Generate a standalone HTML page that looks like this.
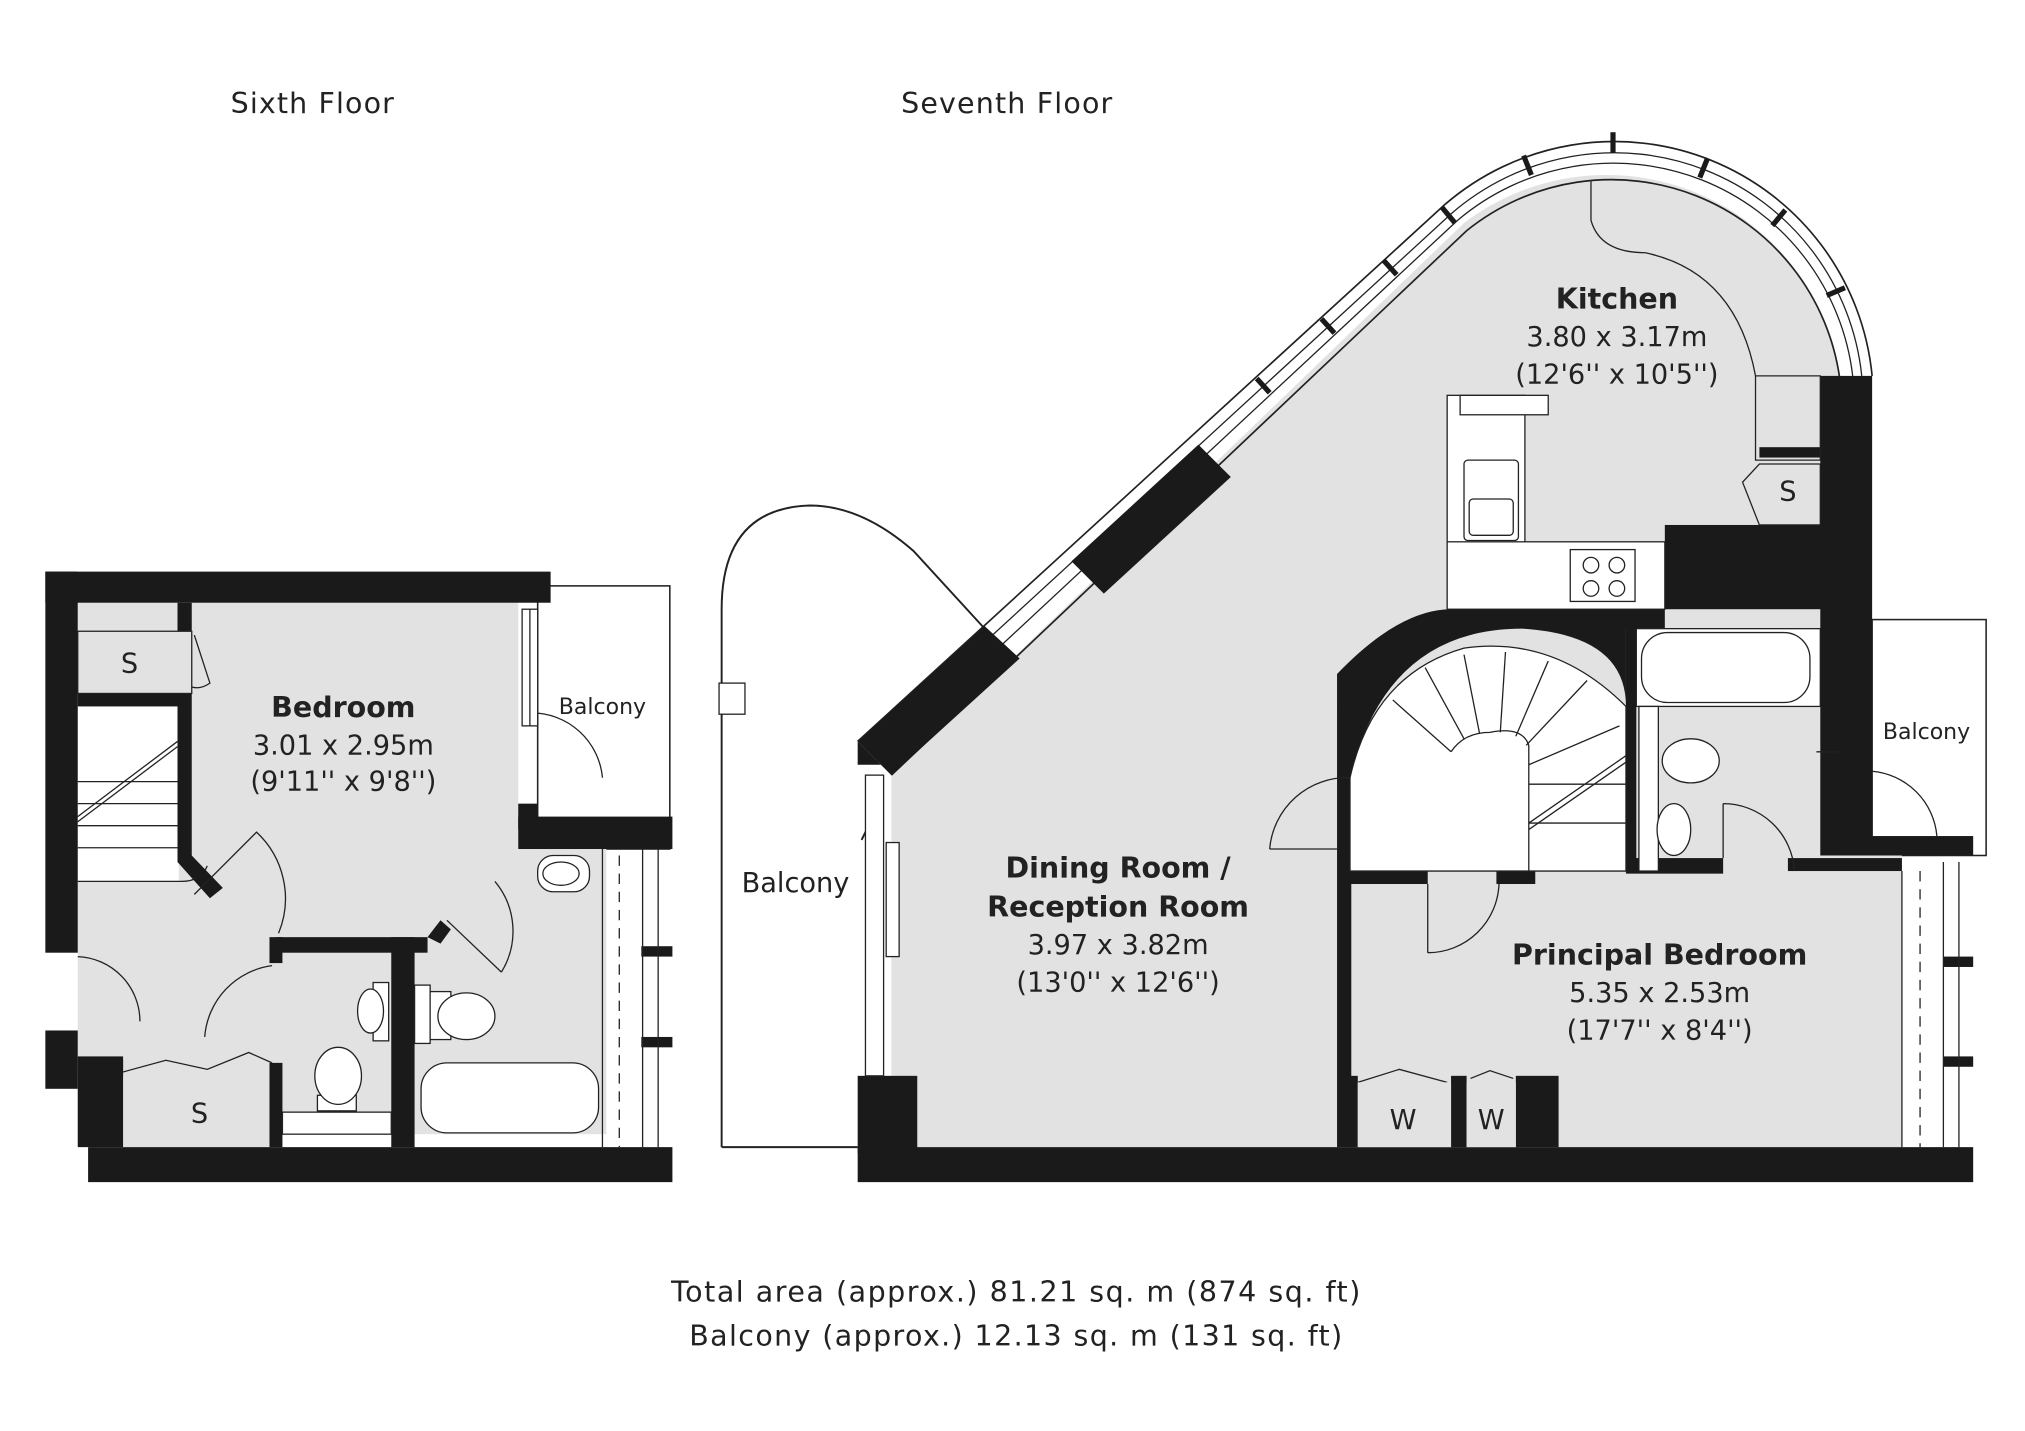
<!DOCTYPE html>
<html><head><meta charset="utf-8"><style>
html,body{margin:0;padding:0;background:#fff;}
svg{display:block;}
text{font-family:"DejaVu Sans","Liberation Sans",sans-serif;fill:#222;}
.b{font-weight:bold;}
</style></head><body>
<svg width="2025" height="1431" viewBox="0 0 1563 1104" preserveAspectRatio="none" xmlns="http://www.w3.org/2000/svg">
<rect width="1563" height="1104" fill="#fff"/>
<text x="241" y="87" font-size="22" text-anchor="middle" textLength="126">Sixth Floor</text>
<text x="777" y="87" font-size="22" text-anchor="middle" textLength="163">Seventh Floor</text>

<!-- SIXTH FLOOR -->
<g stroke="#222" stroke-width="1.2">
<rect x="415" y="452" width="102" height="203" fill="#fff"/>
</g>
<rect x="60" y="465" width="340" height="365" fill="#e2e2e2"/>
<rect x="320" y="655" width="148" height="220" fill="#e2e2e2"/>
<rect x="213" y="735" width="90" height="140" fill="#e2e2e2"/>
<rect x="95" y="825" width="116" height="60" fill="#e2e2e2"/>
<rect x="60" y="545" width="78" height="135" fill="#fff"/>
<g stroke="#222" stroke-width="1" fill="none">
<line x1="60" y1="603" x2="137" y2="603"/><line x1="60" y1="620" x2="137" y2="620"/><line x1="60" y1="637" x2="137" y2="637"/><line x1="60" y1="654" x2="137" y2="654"/>
<line x1="60" y1="630" x2="137" y2="572"/><line x1="60" y1="634" x2="137" y2="576"/>
<path d="M60,680 H140 Q155,680 160,668"/>
</g>
<g fill="#1a1a1a">
<rect x="35" y="441" width="390" height="24"/>
<rect x="35" y="441" width="25" height="294"/>
<rect x="35" y="795" width="25" height="45"/>
<rect x="60" y="815" width="35" height="70"/>
<rect x="68" y="885" width="451" height="27"/>
<rect x="60" y="535" width="78" height="10"/>
<rect x="137" y="465" width="11" height="200"/>
<polygon points="137,665 148,660 172,685 162,693"/>
<rect x="400" y="630" width="119" height="25"/>
<rect x="400" y="620" width="15" height="20"/>
<rect x="213" y="723" width="117" height="12"/>
<rect x="208" y="723" width="10" height="20"/>
<rect x="302" y="723" width="18" height="162"/>
<rect x="208" y="820" width="10" height="65"/>
<rect x="83" y="818" width="12" height="12"/>
<polygon points="330,723 340,710 348,717 340,728"/>
<rect x="495" y="730" width="24" height="8"/>
<rect x="495" y="800" width="24" height="8"/>
</g>
<g stroke="#222" stroke-width="1" fill="none">
<rect x="60" y="487" width="88" height="48" fill="#e2e2e2"/>
<path d="M150,490 L162,527 Q155,532 148,530"/>
<path d="M150,690 L198,642 A70,70 0 0 1 215,720"/>
<path d="M60,738 A50,50 0 0 1 108,788"/>
<path d="M158,800 A60,60 0 0 1 210,745"/>
<path d="M387,750 L345,710 M387,750 A60,60 0 0 0 382,680"/>
<path d="M465,600 A55,55 0 0 0 410,550 L405,550"/>
<path d="M95,827 L128,818 L160,825 L192,812 L210,820"/>
<rect x="403" y="470" width="12" height="90" fill="#fff"/>
<line x1="409" y1="470" x2="409" y2="560"/>
<line x1="465" y1="655" x2="465" y2="885"/><line x1="478" y1="660" x2="478" y2="885" stroke-dasharray="8,6"/>
<line x1="496" y1="655" x2="496" y2="885"/><line x1="508" y1="655" x2="508" y2="885"/>
<rect x="325" y="820" width="137" height="54" rx="20" fill="#fff"/>
<rect x="415" y="660" width="40" height="28" rx="12" fill="#fff"/>
<ellipse cx="433" cy="674" rx="14" ry="9"/>
<rect x="320" y="760" width="12" height="45" fill="#fff"/>
<rect x="332" y="765" width="16" height="37" fill="#fff"/>
<ellipse cx="360" cy="784" rx="22" ry="18" fill="#fff"/>
<rect x="288" y="758" width="12" height="45" fill="#fff"/>
<ellipse cx="286" cy="780" rx="10" ry="17" fill="#fff"/>
<rect x="245" y="845" width="30" height="12" fill="#fff"/>
<ellipse cx="261" cy="830" rx="18" ry="22" fill="#fff"/>
<rect x="218" y="858" width="84" height="17" fill="#fff"/>
</g>
<text x="100" y="519" font-size="21" text-anchor="middle">S</text>
<text x="154" y="866" font-size="21" text-anchor="middle">S</text>
<text x="265" y="553" font-size="22" class="b" text-anchor="middle">Bedroom</text>
<text x="265" y="582" font-size="21" text-anchor="middle">3.01 x 2.95m</text>
<text x="265" y="610" font-size="21" text-anchor="middle">(9'11'' x 9'8'')</text>
<text x="465" y="551" font-size="17" text-anchor="middle">Balcony</text>

<!-- SEVENTH FLOOR -->
<path d="M557,885 V470 Q557,392 625,390 Q665,390 705,425 L760,485" fill="none" stroke="#222" stroke-width="1.5"/>
<path d="M662,885 H557" stroke="#222" stroke-width="1.5"/>
<rect x="555" y="527" width="20" height="24" fill="#fff" stroke="#222"/>
<text x="614" y="688" font-size="21" text-anchor="middle">Balcony</text>
<path d="M670,655 V640 M665,648 L670,638 L675,648" stroke="#222" stroke-width="1.5" fill="none"/>
<rect x="1445" y="478" width="88" height="182" fill="#fff" stroke="#222" stroke-width="1.2"/>
<text x="1487" y="570" font-size="17" text-anchor="middle">Balcony</text>

<path d="M688,598 L1130,172 A182,182 0 0 1 1420,290 L1420,660 L1468,660 L1468,885 L708,885 L708,830 L688,830 Z" fill="#e2e2e2"/>
<path d="M662,572 L1115,158 A200,200 0 0 1 1445,290" fill="none" stroke="#222" stroke-width="1.3"/>
<path d="M668,580 L1120,165 A192,192 0 0 1 1437,290" fill="none" stroke="#222" stroke-width="1"/>
<path d="M676,588 L1125,170 A186,186 0 0 1 1430,290" fill="none" stroke="#222" stroke-width="1"/>
<path d="M688,598 L1132,178 A178,178 0 0 1 1420,292" fill="none" stroke="#222" stroke-width="1.3"/>
<g fill="#1a1a1a">
<polygon points="662,572 760,483 787,508 688,598"/>
<polygon points="827,433 925,343 950,368 852,458"/>
<polygon points="662,572 688,598 688,590 662,590"/>
<rect x="1405" y="290" width="40" height="370"/>
<rect x="1285" y="405" width="125" height="65"/>
<rect x="1358" y="345" width="50" height="8"/>
<rect x="662" y="830" width="46" height="60"/>
<rect x="662" y="885" width="861" height="27"/>
<rect x="1032" y="545" width="11" height="340"/>
<rect x="1042" y="672" width="60" height="10"/>
<rect x="1155" y="672" width="30" height="10"/>
<rect x="1255" y="478" width="8" height="195"/>
<rect x="1255" y="662" width="75" height="12"/>
<rect x="1380" y="662" width="88" height="10"/>
<rect x="1420" y="645" width="103" height="15"/>
<rect x="1170" y="830" width="33" height="55"/>
<rect x="1120" y="830" width="12" height="55"/>
<rect x="1042" y="830" width="6" height="55"/>
<path d="M1032,545 L1032,520 Q1080,470 1120,470 L1285,470 L1285,405 L1285,485 L1255,485 L1255,545 Q1255,490 1175,485 Q1070,485 1042,600 Z"/>
<rect x="1500" y="738" width="23" height="8"/>
<rect x="1500" y="815" width="23" height="8"/>
</g>
<g stroke="#1a1a1a" stroke-width="4">
<line x1="970" y1="292" x2="980" y2="303"/><line x1="1020" y1="246" x2="1030" y2="257"/><line x1="1068" y1="201" x2="1078" y2="212"/>
<line x1="1113" y1="160" x2="1123" y2="172"/><line x1="1176" y1="120" x2="1182" y2="135"/><line x1="1245" y1="102" x2="1245" y2="118"/>
<line x1="1318" y1="122" x2="1312" y2="137"/><line x1="1378" y1="162" x2="1368" y2="174"/><line x1="1424" y1="222" x2="1410" y2="228"/>
</g>
<g stroke="#222" stroke-width="1" fill="none">
<path d="M1228,140 V170 Q1235,195 1270,195 Q1340,210 1355,290 V355 H1405 V290 H1355"/>
<rect x="1117" y="305" width="60" height="165" fill="#fff"/>
<rect x="1117" y="418" width="168" height="52" fill="#fff"/>
<rect x="1127" y="305" width="68" height="15" fill="#fff"/>
<rect x="1130" y="355" width="42" height="62" rx="3" fill="#fff"/>
<rect x="1134" y="385" width="34" height="28" rx="3"/>
<rect x="1212" y="424" width="50" height="40" fill="#fff"/>
<circle cx="1228" cy="436" r="6"/><circle cx="1248" cy="436" r="6"/><circle cx="1228" cy="454" r="6"/><circle cx="1248" cy="454" r="6"/>
<path d="M1345,372 L1358,405 L1405,405 L1405,358 L1358,358 Z" fill="#e2e2e2"/>
<rect x="668" y="598" width="14" height="232" fill="#fff"/>
<rect x="684" y="650" width="10" height="88" fill="#fff"/>
<path d="M1042,672 V600 Q1060,520 1130,500 Q1200,490 1255,545 V672 Z" fill="#fff"/>
<path d="M1180,672 V575 Q1175,560 1150,565 Q1130,565 1120,580"/>
<line x1="1180" y1="635" x2="1255" y2="583"/><line x1="1180" y1="640" x2="1255" y2="588"/>
<line x1="1180" y1="605" x2="1255" y2="605"/><line x1="1180" y1="635" x2="1255" y2="635"/>
<line x1="1120" y1="580" x2="1075" y2="540"/><line x1="1130" y1="570" x2="1100" y2="515"/><line x1="1142" y1="566" x2="1130" y2="505"/>
<line x1="1158" y1="565" x2="1162" y2="503"/><line x1="1170" y1="568" x2="1195" y2="510"/><line x1="1178" y1="575" x2="1225" y2="525"/>
<line x1="1180" y1="590" x2="1250" y2="560"/>
<path d="M980,655 A60,60 0 0 1 1042,600"/><line x1="980" y1="655" x2="1032" y2="655"/>
<path d="M1102,735 V682 M1102,735 A55,55 0 0 0 1157,682"/>
<path d="M1330,620 A55,55 0 0 1 1385,672 M1330,620 V662"/>
<path d="M1495,645 A55,55 0 0 0 1445,595"/>
<path d="M1048,835 L1080,825 L1117,835 M1135,832 L1150,826 L1168,832"/>
<rect x="1263" y="485" width="142" height="60" fill="#fff"/>
<rect x="1267" y="488" width="130" height="54" rx="20" fill="#fff"/>
<rect x="1265" y="545" width="15" height="127" fill="#fff"/>
<ellipse cx="1305" cy="587" rx="22" ry="17" fill="#fff"/>
<ellipse cx="1292" cy="640" rx="13" ry="20" fill="#fff"/>
<line x1="1402" y1="580" x2="1420" y2="580"/>
<line x1="1468" y1="672" x2="1468" y2="885"/><line x1="1482" y1="672" x2="1482" y2="885" stroke-dasharray="8,6"/>
<line x1="1500" y1="665" x2="1500" y2="885"/><line x1="1512" y1="665" x2="1512" y2="885"/>
</g>
<rect x="1048" y="835" width="72" height="50" fill="#e2e2e2"/>
<rect x="1132" y="835" width="38" height="50" fill="#e2e2e2"/>
<text x="1380" y="386" font-size="21" text-anchor="middle">S</text>
<text x="1083" y="871" font-size="21" text-anchor="middle">W</text>
<text x="1151" y="871" font-size="21" text-anchor="middle">W</text>
<text x="1248" y="238" font-size="22" class="b" text-anchor="middle">Kitchen</text>
<text x="1248" y="267" font-size="21" text-anchor="middle">3.80 x 3.17m</text>
<text x="1248" y="296" font-size="21" text-anchor="middle">(12'6'' x 10'5'')</text>
<text x="863" y="677" font-size="22" class="b" text-anchor="middle">Dining Room /</text>
<text x="863" y="707" font-size="22" class="b" text-anchor="middle">Reception Room</text>
<text x="863" y="736" font-size="21" text-anchor="middle">3.97 x 3.82m</text>
<text x="863" y="765" font-size="21" text-anchor="middle">(13'0'' x 12'6'')</text>
<text x="1281" y="744" font-size="22" class="b" text-anchor="middle">Principal Bedroom</text>
<text x="1281" y="773" font-size="21" text-anchor="middle">5.35 x 2.53m</text>
<text x="1281" y="802" font-size="21" text-anchor="middle">(17'7'' x 8'4'')</text>

<text x="784" y="1004" font-size="22" text-anchor="middle" textLength="532">Total area (approx.) 81.21 sq. m (874 sq. ft)</text>
<text x="784" y="1038" font-size="22" text-anchor="middle" textLength="504">Balcony (approx.) 12.13 sq. m (131 sq. ft)</text>
</svg>
</body></html>
